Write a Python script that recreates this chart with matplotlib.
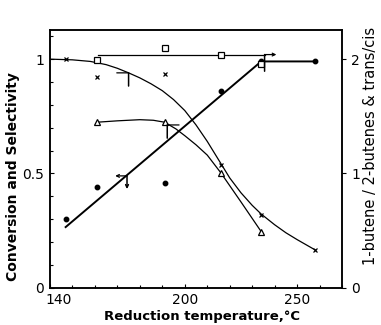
import matplotlib.pyplot as plt
from matplotlib.ticker import MultipleLocator, FixedLocator
from matplotlib.transforms import ScaledTranslation

# reduction temperatures (degC)
temps = [147, 161, 191, 216, 234, 258]

# left axis: conversion (filled circles) and selectivity (crosses)
conversion = [0.30, 0.44, 0.46, 0.86, 0.99, 0.99]
selectivity = [1.0, 0.923, 0.935, 0.537, 0.318, 0.165]

# right axis: ratios (open triangles, open squares)
tri_temps = [161, 191, 216, 234]
tri_ratio = [1.45, 1.45, 1.0, 0.49]
sq_temps = [161, 191, 216, 234]
sq_ratio = [1.99, 2.095, 2.04, 1.96]

# hand drawn fit curves
conv_fit_t = [147, 234, 258]
conv_fit_v = [0.265, 0.99, 0.99]
sel_fit_t = [140, 150, 158, 165, 170, 175, 180, 185, 190, 195, 200, 205,
             210, 215, 220, 225, 230, 234, 240, 245, 250, 258]
sel_fit_v = [1.0, 0.997, 0.99, 0.976, 0.96, 0.94, 0.918, 0.892, 0.862, 0.823,
             0.775, 0.712, 0.64, 0.56, 0.48, 0.415, 0.36, 0.322, 0.275, 0.24,
             0.21, 0.165]
tri_fit_t = [161, 170, 180, 186, 191, 196, 200, 205, 210, 216, 225, 234]
tri_fit_v = [1.448, 1.46, 1.47, 1.465, 1.448, 1.39, 1.33, 1.25, 1.16, 1.006, 0.75, 0.49]
sq_fit_t = [161.5, 235.5]
sq_fit_v = [2.04, 2.04]

fig = plt.figure(figsize=(3.81, 3.25), dpi=100)
ax = fig.add_axes([0.131, 0.115, 0.767, 0.793])
ax2 = ax.twinx()

k = 'black'
ax.plot(conv_fit_t, conv_fit_v, color=k, lw=1.4)
ax.plot(temps, conversion, 'o', color=k, ms=3.2)
ax.plot(sel_fit_t, sel_fit_v, color=k, lw=0.9)
ax.plot(temps, selectivity, 'x', color=k, ms=3.5, mew=0.9)
ax2.plot(tri_fit_t, tri_fit_v, color=k, lw=0.9)
ax2.plot(tri_temps, tri_ratio, '^', mfc='white', mec=k, ms=4.5, mew=0.9)
ax2.plot(sq_fit_t, sq_fit_v, color=k, lw=0.9)
ax2.plot(sq_temps, sq_ratio, 's', mfc='white', mec=k, ms=4, mew=0.9)


def axis_mark(a, t, v, side, head_h=True, head_v=False, L=8.5, V=9.5):
    # corner mark telling which axis a curve belongs to
    hs = '<-' if head_h else '-'
    vs = '<-' if head_v else '-'
    a.annotate('', xy=(t, v), xytext=(side * L, 0), textcoords='offset points',
               arrowprops=dict(arrowstyle=hs, lw=0.9, color=k,
                               shrinkA=0, shrinkB=0, mutation_scale=5))
    a.annotate('', xy=(t, v), xytext=(0, -V), textcoords='offset points',
               arrowprops=dict(arrowstyle=vs, lw=1.1, color=k,
                               shrinkA=0, shrinkB=0, mutation_scale=5))


axis_mark(ax, 175, 0.94, -1, head_h=False)
axis_mark(ax, 174.3, 0.489, -1, head_v=True)
axis_mark(ax2, 192.2, 1.424, 1, head_h=False)
axis_mark(ax2, 235.5, 2.04, 1, V=12)

ax.set_xlim(140, 270)
ax.set_ylim(0, 1.128)
ax2.set_ylim(0, 2.256)

ax.xaxis.set_major_locator(FixedLocator([140, 200, 250]))
ax.xaxis.set_minor_locator(MultipleLocator(10))
ax.yaxis.set_major_locator(FixedLocator([0, 0.5, 1]))
ax.yaxis.set_minor_locator(MultipleLocator(0.1))
ax.set_yticklabels(['0', '0.5', '1'])
ax2.yaxis.set_major_locator(FixedLocator([0, 1, 2]))

ax.tick_params(axis='both', which='both', direction='in', labelsize=10, width=0.8)
ax.tick_params(axis='both', which='major', length=3)
ax.tick_params(axis='both', which='minor', length=2.5)
ax.tick_params(axis='x', pad=4)
ax.tick_params(axis='y', pad=4)
ax2.tick_params(axis='y', direction='out', labelsize=10, length=3, width=0.8)

# the "140" label sits a little right of the corner in the original
first = ax.get_xticklabels()[0]
first.set_transform(first.get_transform() + ScaledTranslation(6 / 72, 0, fig.dpi_scale_trans))

for a in (ax, ax2):
    for s in a.spines.values():
        s.set_linewidth(1.1)

ax.set_xlabel('Reduction temperature,°C', fontsize=9.5, fontweight='bold')
ax.xaxis.set_label_coords(0.52, -0.085)
ax.set_ylabel('Conversion and Selectivity', fontsize=10, fontweight='bold')
ax.yaxis.set_label_coords(-0.102, 0.43)
ax2.set_ylabel('1-butene / 2-butenes & trans/cis', fontsize=10.5)
ax2.yaxis.set_label_coords(1.07, 0.55)

fig.savefig('out.png', dpi=100)
